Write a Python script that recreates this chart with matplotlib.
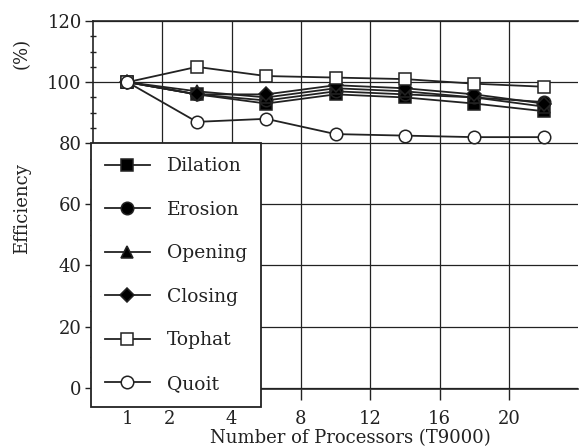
import matplotlib
matplotlib.use('Agg')
import matplotlib.pyplot as plt
from matplotlib.ticker import MultipleLocator, FixedLocator

processors = ["1", "2", "4", "8", "12", "16", "20"]
dilation = [100, 96, 93, 96, 95, 93, 90.5]
erosion = [100, 96, 94, 97, 96, 95, 93.5]
opening = [100, 97, 95, 98, 97, 95, 92]
closing = [100, 96, 96, 99, 98, 96, 93]
tophat = [100, 105, 102, 101.5, 101, 99.5, 98.5]
quoit = [100, 87, 88, 83, 82.5, 82, 82]

series = [
    ("Dilation", dilation, 's', 'k'),
    ("Erosion", erosion, 'o', 'k'),
    ("Opening", opening, '^', 'k'),
    ("Closing", closing, 'D', 'k'),
    ("Tophat", tophat, 's', 'white'),
    ("Quoit", quoit, 'o', 'white'),
]

plt.rcParams['font.family'] = 'DejaVu Serif'
ink = '#222222'

fig = plt.figure(figsize=(5.8, 4.48), dpi=100)
ax = fig.add_axes([0.160, 0.132, 0.837, 0.821])

x = list(range(len(processors)))
for name, vals, mk, fc in series:
    ms = 9 if mk != 'D' else 7
    ax.plot(x, vals, color=ink, lw=1.3, marker=mk, markersize=ms,
            markerfacecolor=fc, markeredgecolor=ink, markeredgewidth=1.1,
            label=name)

ax.set_xlim(-0.5, 6.5)
ax.set_ylim(-0.4, 120)

ax.yaxis.set_major_locator(MultipleLocator(20))
ax.yaxis.set_minor_locator(MultipleLocator(5))
ax.tick_params(axis='y', which='major', direction='out', length=6, width=1,
               labelsize=13, colors=ink, pad=2)
ax.tick_params(axis='y', which='minor', direction='inout', length=5, width=1,
               color=ink)

# tick labels sit on the grid lines like the original print
ax.xaxis.remove_overlapping_locs = False
ax.xaxis.set_major_locator(FixedLocator([0, 0.6, 1.5, 2.5, 3.5, 4.5, 5.5]))
ax.set_xticklabels(processors)
ax.xaxis.set_minor_locator(FixedLocator([0.5, 1.5, 2.5, 3.5, 4.5, 5.5]))
ax.tick_params(axis='x', which='major', length=0, labelsize=13,
               colors=ink, pad=15)
ax.tick_params(axis='x', which='minor', direction='out', length=8, width=1,
               color=ink)

ax.grid(True, axis='y', which='major', color=ink, lw=0.9)
ax.grid(True, axis='x', which='minor', color=ink, lw=0.9)
ax.set_axisbelow(True)
for s in ax.spines.values():
    s.set_color(ink)
    s.set_linewidth(1.2)
ax.spines['right'].set_visible(False)

ax.set_xlabel("Number of Processors (T9000)", fontsize=13, color=ink)
ax.xaxis.set_label_coords(0.53, -0.108)

fig.text(0.038, 0.535, "Efficiency", rotation=90, ha='center', va='center',
         fontsize=13, color=ink)
fig.text(0.038, 0.88, "(%)", rotation=90, ha='center', va='center',
         fontsize=13, color=ink)

leg = ax.legend(loc='upper left', bbox_to_anchor=(-0.004, 0.668),
                frameon=True, fancybox=False, framealpha=1, edgecolor=ink,
                fontsize=13.5, handlelength=2.4, handletextpad=0.9,
                labelspacing=1.36, borderpad=0.75, borderaxespad=0)
leg.get_frame().set_linewidth(1.3)
for t in leg.get_texts():
    t.set_color(ink)

fig.savefig("out.png", dpi=100)
